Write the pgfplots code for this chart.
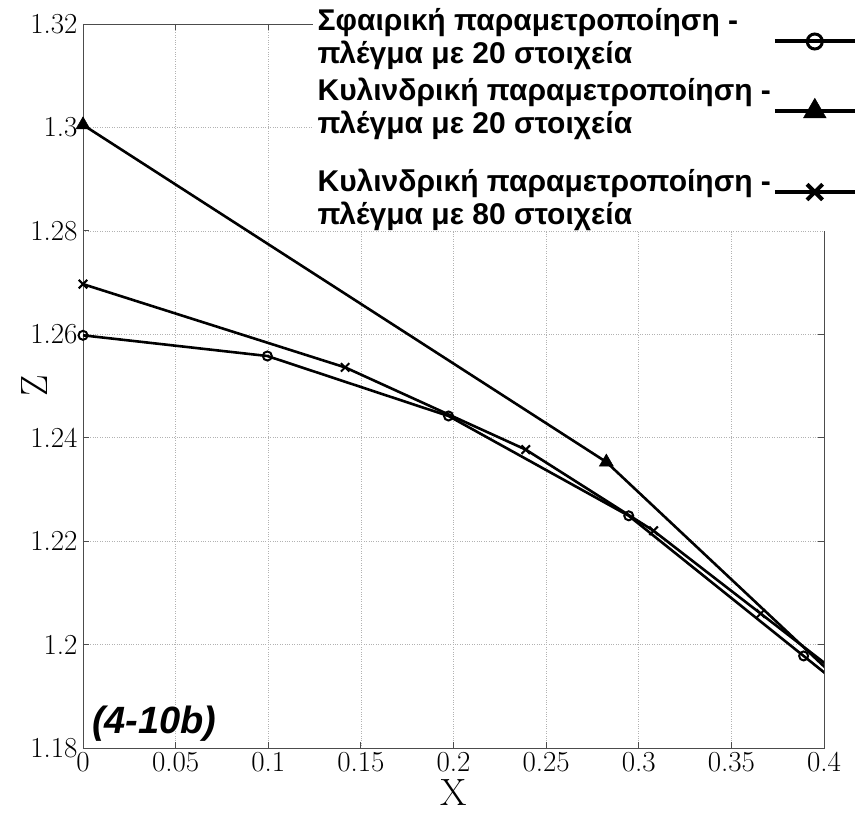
\documentclass[border=0pt]{standalone}
\usepackage{fontspec}
\usepackage{pgfplots}
\pgfplotsset{compat=1.18}
\newfontfamily\lsans{Liberation Sans}
\newfontfamily\lmr{Latin Modern Roman}
\begin{document}
\begin{tikzpicture}
\begin{axis}[
  scale only axis,
  width=741pt, height=724pt,
  xmin=0, xmax=0.4, ymin=1.18, ymax=1.32,
  xtick={0,0.05,0.1,0.15,0.2,0.25,0.3,0.35,0.4},
  ytick={1.18,1.2,1.22,1.24,1.26,1.28,1.3,1.32},
  xticklabels={0,0.05,0.1,0.15,0.2,0.25,0.3,0.35,0.4},
  yticklabels={1.18,1.2,1.22,1.24,1.26,1.28,1.3,1.32},
  xticklabel style={font=\lmr\fontsize{29}{32}\selectfont, yshift=-1pt},
  yticklabel style={font=\lmr\fontsize{29}{32}\selectfont, xshift=-2pt},
  grid=major,
  major grid style={dotted, gray!60, line width=0.6pt},
  axis line style={gray!60!black, line width=0.8pt},
  major tick length=6pt,
  tick style={gray!60!black, line width=0.8pt},
  xlabel={X}, ylabel={Z},
  label style={font=\lmr\fontsize{38}{40}\selectfont},
  xlabel style={at={(axis description cs:0.5,-0.080)}, anchor=base},
  ylabel style={at={(axis description cs:-0.066,0.5)}, anchor=center},
  clip=true,
  legend plot pos=right,
  legend cell align=left,
  legend style={at={(rel axis cs:1.0486,1.0290)}, anchor=north east,
    fill=white, draw=none,
    font=\lsans\bfseries\fontsize{30}{33}\selectfont,
    cells={align=left},
    row sep=9pt, inner sep=3pt,
    /tikz/every even column/.append style={column sep=0pt}},
  legend image code/.code={\draw[#1, line width=4pt, mark indices={2}] plot coordinates {(0pt,-5pt) (40pt,-5pt) (80pt,-5pt)};},
]
\addplot[black, line width=2.6pt, mark=o, mark size=4.5pt, mark indices={1,2,3,4,5},
  mark options={line width=2pt},
  legend image post style={mark size=7.5pt, mark options={line width=3pt}}] coordinates {
  (0,1.2598) (0.0995,1.2558) (0.1973,1.2442) (0.2946,1.2249) (0.389,1.1978) (0.43,1.1860)};
\addlegendentry{Σφαιρική παραμετροποίηση -\\πλέγμα με 20 στοιχεία}
\addplot[black, line width=2.6pt, mark=triangle*, mark size=8pt, mark indices={1,2},
  mark options={line width=0.5pt},
  legend image post style={mark size=13pt}] coordinates {
  (0,1.3005) (0.2825,1.2353) (0.43,1.1857)};
\addlegendentry{Κυλινδρική παραμετροποίηση -\\πλέγμα με 20 στοιχεία}
\addplot[black, line width=2.6pt, mark=x, mark size=6pt, mark indices={1,2,3,4,5},
  mark options={line width=2pt},
  legend image post style={mark size=11pt, mark options={line width=4pt}}] coordinates {
  (0,1.2697) (0.1415,1.2536) (0.2390,1.2377) (0.308,1.2220) (0.3658,1.2060) (0.43,1.1882)};
\addlegendentry{\rule{0pt}{44pt}Κυλινδρική παραμετροποίηση -\\πλέγμα με 80 στοιχεία}
\node[anchor=base west, font=\lsans\bfseries\itshape\fontsize{38}{40}\selectfont, inner sep=0pt]
  at (rel axis cs:0.012,0.0207) {(4-10b)};
\coordinate (bl) at (rel axis cs:0,0);
\end{axis}
\pgfresetboundingbox
\path (bl) ++(-83pt,-64pt) rectangle ++(865pt,812pt);
\end{tikzpicture}
\end{document}
